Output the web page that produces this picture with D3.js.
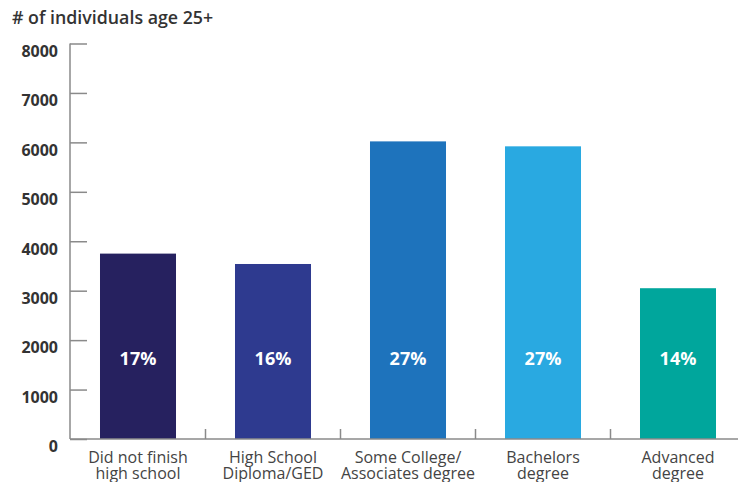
<!DOCTYPE html>
<html>
<head>
<meta charset="utf-8">
<script src="https://cdn.jsdelivr.net/npm/d3@7"></script>
<style>
  html, body { margin: 0; padding: 0; background: #fff; }
  svg { display: block; font-family: "Open Sans", Lato, sans-serif; }
</style>
</head>
<body>
<svg id="chart" width="738" height="482"></svg>
<script>
// Education attainment, individuals age 25+
const categories = [
  ["Did not finish", "high school"],
  ["High School", "Diploma/GED"],
  ["Some College/", "Associates degree"],
  ["Bachelors", "degree"],
  ["Advanced", "degree"]
];
const counts = [3750, 3540, 6020, 5920, 3050];
const shares = ["17%", "16%", "27%", "27%", "14%"];
const barColors = ["#26215f", "#2e3a8f", "#1e73bc", "#29a9e1", "#00a69c"];
const yTicks = [0, 1000, 2000, 3000, 4000, 5000, 6000, 7000, 8000];

const svg = d3.select("#chart");
const axisColor = "#8a8a8a";

const x = d3.scaleBand()
  .domain(d3.range(categories.length))
  .range([70.5, 745.5])
  .paddingInner(0.437)
  .paddingOuter(0.2185);

const y = d3.scaleLinear().domain([0, 8000]).range([439, 43.5]);

// Title
svg.append("text")
  .attr("x", 12).attr("y", 24)
  .attr("fill", "#333")
  .attr("font-size", 17.8)
  .attr("font-weight", 600)
  .text("# of individuals age 25+");

// Bars
svg.selectAll("rect.bar")
  .data(counts)
  .join("rect")
  .attr("class", "bar")
  .attr("x", (d, i) => x(i))
  .attr("width", x.bandwidth())
  .attr("y", d => y(d))
  .attr("height", d => y(0) - y(d))
  .attr("fill", (d, i) => barColors[i]);

// Share labels inside bars
svg.selectAll("text.share")
  .data(shares)
  .join("text")
  .attr("class", "share")
  .attr("x", (d, i) => x(i) + x.bandwidth() / 2)
  .attr("y", 364.5)
  .attr("text-anchor", "middle")
  .attr("fill", "#fff")
  .attr("font-size", 18)
  .attr("font-weight", 700)
  .text(d => d);

// Y axis: inward ticks, labels set slightly below each tick
const yAxis = d3.axisRight(y)
  .tickValues(yTicks)
  .tickSize(17)
  .tickFormat(d => d);

const gy = svg.append("g")
  .attr("transform", "translate(70,0)")
  .call(yAxis);
gy.select(".domain").remove();
gy.selectAll(".tick line").attr("stroke", axisColor).attr("stroke-width", 1.5);
gy.selectAll(".tick text")
  .attr("x", -12)
  .attr("dy", "0.8em")
  .attr("text-anchor", "end")
  .attr("fill", "#333")
  .attr("font-size", 16)
  .attr("font-weight", 700)
  .attr("font-family", "'Open Sans', Lato, sans-serif");

svg.append("line")
  .attr("x1", 70).attr("x2", 70)
  .attr("y1", y(8000)).attr("y2", y(0))
  .attr("stroke", axisColor).attr("stroke-width", 1.5);

// X axis baseline and category separators
svg.append("line")
  .attr("x1", 70).attr("x2", 738)
  .attr("y1", y(0)).attr("y2", y(0))
  .attr("stroke", axisColor).attr("stroke-width", 1.5);

svg.selectAll("line.sep")
  .data(d3.range(1, categories.length))
  .join("line")
  .attr("class", "sep")
  .attr("x1", i => x(i) - x.step() * x.paddingInner() / 2)
  .attr("x2", i => x(i) - x.step() * x.paddingInner() / 2)
  .attr("y1", y(0) - 10).attr("y2", y(0))
  .attr("stroke", axisColor).attr("stroke-width", 1.5);

// Category labels (two lines)
const cat = svg.selectAll("text.cat")
  .data(categories)
  .join("text")
  .attr("class", "cat")
  .attr("text-anchor", "middle")
  .attr("fill", "#444")
  .attr("font-size", 16)
  .attr("transform", (d, i) => `translate(${x(i) + x.bandwidth() / 2},0)`);
cat.selectAll("tspan")
  .data(d => d)
  .join("tspan")
  .attr("x", 0)
  .attr("y", (d, j) => 462.5 + j * 16)
  .text(d => d);
</script>
</body>
</html>
